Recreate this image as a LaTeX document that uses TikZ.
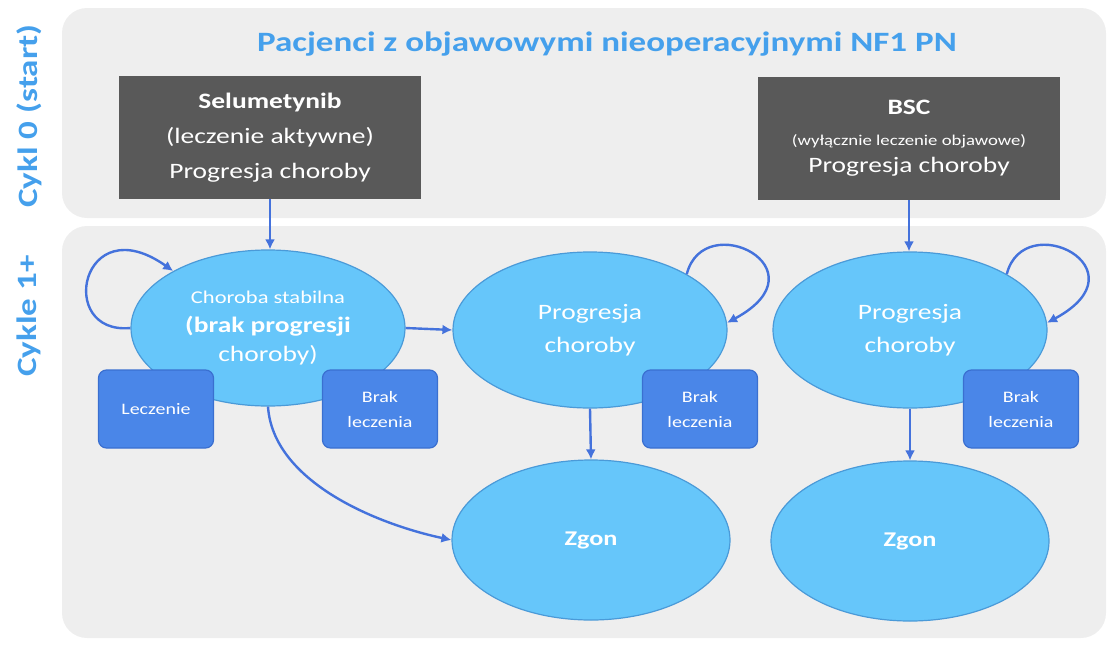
\documentclass[tikz,border=0pt]{standalone}
\usepackage{fontspec}
\setmainfont{Carlito}[FakeStretch=1.25]
\usetikzlibrary{shapes.geometric, arrows.meta}
\definecolor{tlo}{HTML}{EEEEEE}
\definecolor{ciemny}{HTML}{595959}
\definecolor{jasny}{HTML}{66C6FA}
\definecolor{jasnyb}{HTML}{4A9AD8}
\definecolor{sredni}{HTML}{4A86E8}
\definecolor{srednib}{HTML}{3A6FD0}
\definecolor{strz}{HTML}{4472DC}
\definecolor{napis}{HTML}{45A0EC}
\tikzset{
  panel/.style={fill=tlo, rounded corners=25pt},
  lek/.style={rectangle, fill=ciemny, text=white, minimum width=302pt, minimum height=123pt, font=\fontsize{22}{35}\selectfont},
  stan/.style={ellipse, draw=jasnyb, line width=1.2pt, fill=jasny, text=white, minimum width=274pt, minimum height=156pt, inner sep=0pt, font=\fontsize{22}{33}\selectfont},
  zgon/.style={stan, minimum width=278pt, minimum height=160pt, font=\fontsize{21}{24}\selectfont\bfseries},
  brak/.style={rectangle, rounded corners=8pt, draw=srednib, line width=1.2pt, fill=sredni, text=white, minimum width=115pt, minimum height=78pt, font=\fontsize{16}{25}\selectfont},
  cykl/.style={rotate=90, text=napis, font=\fontsize{28}{30}\selectfont\bfseries}
}
\tikzstyle{arrow} = [line width=2.4pt, strz, -{Latex[length=10pt, width=10pt]}]

\begin{document}
\begin{tikzpicture}[x=1pt, y=-1pt, every node/.append style={align=center}]
    \useasboundingbox (0,0) rectangle (1111,645);
    % panele
    \fill[panel] (62,8) rectangle (1106,218);
    \fill[panel] (62,226) rectangle (1106,638);
    \node[cykl] (c0) at (29,116) {Cykl 0 (start)};
    \node[cykl] (c1) at (29,316) {Cykle 1+};
    \node[text=napis, font=\fontsize{28}{30}\selectfont\bfseries, anchor=base] (tyt) at (607,51) {Pacjenci z objawowymi nieoperacyjnymi NF1 PN};

    \node[lek] (sel) at (270,137.5) {\textbf{Selumetynib}\\(leczenie aktywne)\\Progresja choroby};
    \node[lek] (bsc) at (909,138.5) {\textbf{BSC}\\[-4pt]{\fontsize{15}{18}\selectfont (wyłącznie leczenie objawowe)}\\[-8pt]Progresja choroby};

    \node[stan, font=\fontsize{22}{29}\selectfont] (st) at (268,328) {{\fontsize{18}{22}\selectfont Choroba stabilna}\\\textbf{(brak progresji}\\choroby)};
    \node[stan] (pr1) at (590,330) {Progresja\\choroby};
    \node[stan] (pr2) at (910,330) {Progresja\\choroby};
    \node[zgon] (zg1) at (591,540) {Zgon};
    \node[zgon] (zg2) at (910,541) {Zgon};

    \node[brak] (lecz) at (156,409) {Leczenie};
    \node[brak] (brak1) at (380,409) {Brak\\leczenia};
    \node[brak] (brak2) at (700,409) {Brak\\leczenia};
    \node[brak] (brak3) at (1021,409) {Brak\\leczenia};

    \draw[arrow] (sel.south) -- (sel.south |- st.north);
    \draw[arrow] (bsc.south) -- (bsc.south |- pr2.north);
    \draw[arrow] (st.east) -- (pr1.west);
    \draw[arrow] (st.south) .. controls +(5,75) and +(-75,-16) .. (zg1.west);
    \draw[arrow] (pr1.south) -- (zg1.north);
    \draw[arrow] (pr2.south) -- (zg2.north);
    % petle
    \draw[arrow] (st.west) .. controls +(-75,7) and +(-92,-65) .. (st.149);
    \draw[arrow] (pr1.30) .. controls +(17,-67) and +(100,-54) .. (pr1.3);
    \draw[arrow] (pr2.30) .. controls +(17,-67) and +(100,-54) .. (pr2.3);
\end{tikzpicture}
\end{document}
